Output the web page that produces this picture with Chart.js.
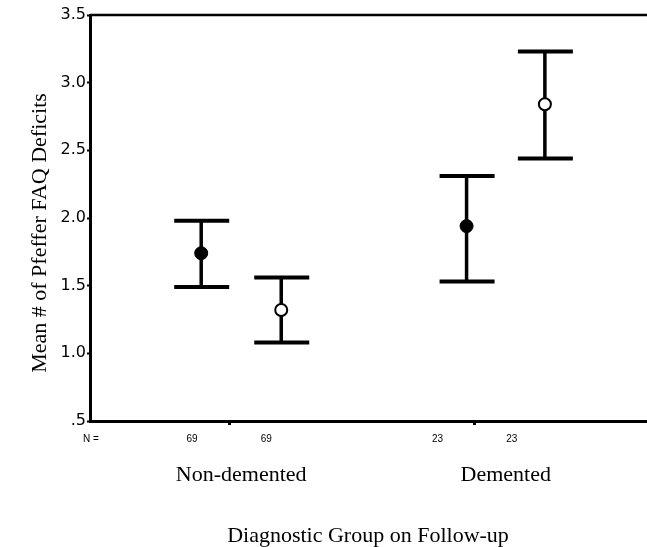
<!DOCTYPE html>
<html>
<head>
<meta charset="utf-8">
<script src="https://cdn.jsdelivr.net/npm/chart.js@4.4.1/dist/chart.umd.min.js"></script>
<style>
  html, body { margin: 0; padding: 0; background: #fff; }
  #wrap { width: 647px; height: 547px; }
</style>
</head>
<body>
<div id="wrap"><canvas id="faq-chart" width="647" height="547"></canvas></div>
<script>
// Groups on the x axis and where they sit on the linear scale
const groups = ["Non-demented", "Demented"];
const groupTicks = [1, 2];

// Filled circles (first assessment)
const filledX = [0.886, 1.967];
const filledMean = [1.74, 1.94];
const filledLow = [1.49, 1.53];
const filledHigh = [1.98, 2.31];

// Open circles (second assessment)
const openX = [1.212, 2.286];
const openMean = [1.32, 2.84];
const openLow = [1.08, 2.44];
const openHigh = [1.56, 3.23];

// N per bar, in plot order
const nLabels = ["69", "69", "23", "23"];
const nLabelX = [0.849, 1.151, 1.849, 2.151];

const yTicks = [0.5, 1.0, 1.5, 2.0, 2.5, 3.0, 3.5];

const serif = "'Liberation Serif', 'Times New Roman', serif";
const sans = "'Liberation Sans', Arial, sans-serif";

const toPoints = (xs, ys, lo, hi) => xs.map((x, i) => ({ x: x, y: ys[i], lo: lo[i], hi: hi[i] }));

// Error bars, labels and the top frame line
const extras = {
  id: "extras",
  beforeDatasetsDraw(chart) {
    const { ctx, scales: { x, y } } = chart;
    ctx.save();
    ctx.strokeStyle = "#000";
    chart.data.datasets.forEach(ds => {
      ds.data.forEach(p => {
        const px = x.getPixelForValue(p.x);
        const top = y.getPixelForValue(p.hi);
        const bot = y.getPixelForValue(p.lo);
        ctx.lineWidth = 3.5;
        ctx.beginPath();
        ctx.moveTo(px, top);
        ctx.lineTo(px, bot);
        ctx.stroke();
        ctx.lineWidth = 4;
        ctx.beginPath();
        ctx.moveTo(px - 27, top);
        ctx.lineTo(px + 28, top);
        ctx.moveTo(px - 27, bot);
        ctx.lineTo(px + 28, bot);
        ctx.stroke();
      });
    });
    ctx.restore();
  },
  afterDraw(chart) {
    const { ctx, chartArea, scales: { x, y } } = chart;
    ctx.save();
    ctx.fillStyle = "#000";
    ctx.strokeStyle = "#000";

    // top frame line
    ctx.lineWidth = 2.5;
    ctx.beginPath();
    ctx.moveTo(chartArea.left, chartArea.top);
    ctx.lineTo(chartArea.right, chartArea.top);
    ctx.stroke();

    // N row
    ctx.font = "10px " + sans;
    ctx.textAlign = "center";
    ctx.textBaseline = "middle";
    ctx.fillText("N =", 91, 439);
    nLabels.forEach((t, i) => ctx.fillText(t, x.getPixelForValue(nLabelX[i]), 439));

    // group names, centred between each pair of points
    ctx.font = "22px " + serif;
    groups.forEach((g, i) => {
      const cx = (x.getPixelForValue(filledX[i]) + x.getPixelForValue(openX[i])) / 2;
      ctx.fillText(g, cx, 475);
    });

    // axis titles
    ctx.fillText("Diagnostic Group on Follow-up", 368, 536);
    ctx.translate(40, 233);
    ctx.rotate(-Math.PI / 2);
    ctx.fillText("Mean # of Pfeffer FAQ Deficits", 0, 0);
    ctx.restore();
  }
};

new Chart(document.getElementById("faq-chart"), {
  type: "scatter",
  data: {
    datasets: [
      {
        label: "Filled",
        data: toPoints(filledX, filledMean, filledLow, filledHigh),
        pointRadius: 6.5,
        pointBackgroundColor: "#000",
        pointBorderColor: "#000",
        pointBorderWidth: 1
      },
      {
        label: "Open",
        data: toPoints(openX, openMean, openLow, openHigh),
        pointRadius: 6,
        pointBackgroundColor: "#fff",
        pointBorderColor: "#000",
        pointBorderWidth: 2
      }
    ]
  },
  options: {
    responsive: false,
    animation: false,
    layout: { autoPadding: false, padding: { top: 15, right: 0, left: 0, bottom: 0 } },
    plugins: {
      legend: { display: false },
      tooltip: { enabled: false }
    },
    scales: {
      x: {
        type: "linear",
        min: 0.433,
        max: 2.702,
        afterBuildTicks: scale => { scale.ticks = groupTicks.map(v => ({ value: v })); },
        afterFit: scale => { scale.height = 126; },
        ticks: { callback: () => "", padding: 0 },
        grid: {
          drawOnChartArea: false,
          tickLength: 4,
          tickWidth: 3,
          tickColor: "#000"
        },
        border: { color: "#000", width: 3 }
      },
      y: {
        min: 0.5,
        max: 3.5,
        afterBuildTicks: scale => { scale.ticks = yTicks.map(v => ({ value: v })); },
        afterFit: scale => { scale.width = 90; },
        ticks: {
          color: "#000",
          padding: 1,
          font: { family: "'DejaVu Sans', sans-serif", size: 16 },
          callback: v => (v === 0.5 ? ".5" : v.toFixed(1))
        },
        grid: {
          drawOnChartArea: false,
          tickLength: 3,
          tickWidth: 2,
          tickColor: "#000"
        },
        border: { color: "#000", width: 3 }
      }
    }
  },
  plugins: [extras]
});
</script>
</body>
</html>
